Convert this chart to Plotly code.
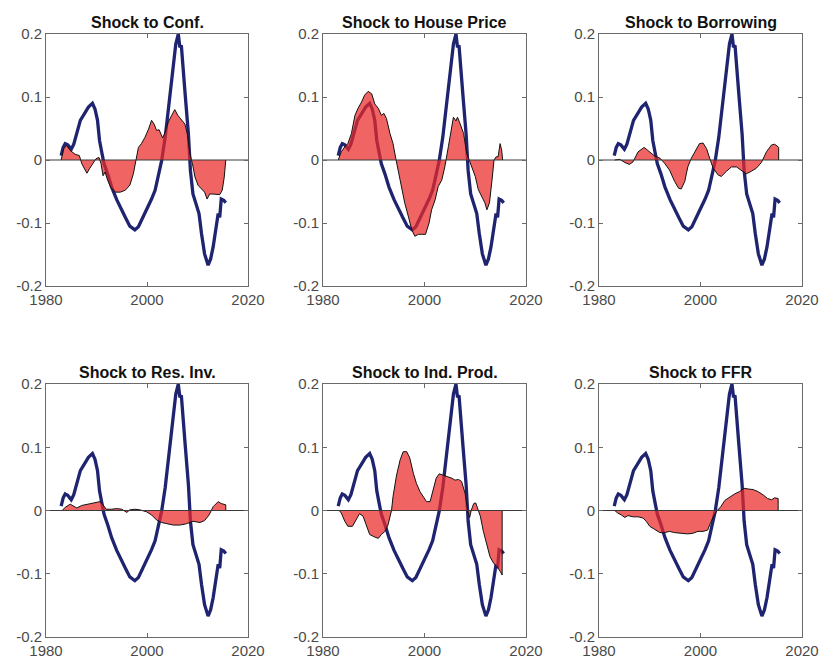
import plotly.graph_objects as go

# ---- common navy line (same in every panel) ----
navy_year = [1983.0, 1983.4, 1983.8, 1984.3, 1984.7, 1985.0, 1985.5, 1986.1, 1986.8, 1987.8,
             1988.4, 1989.2, 1989.7, 1990.2, 1990.6, 1991.1, 1991.5, 1992.2, 1993.0, 1994.0,
             1994.8, 1995.7, 1996.6, 1997.6, 1998.3, 1998.9, 1999.9, 2000.9, 2001.6, 2002.2,
             2002.9, 2003.6, 2004.2, 2004.7, 2005.2, 2005.7, 2006.2, 2006.5, 2006.8, 2007.2,
             2007.6, 2008.2, 2008.6, 2009.1, 2009.8, 2010.3, 2010.8, 2011.4, 2012.1, 2012.6,
             2013.1, 2013.6, 2014.1, 2014.4, 2014.7, 2015.2, 2015.6]
navy_val = [0.007, 0.020, 0.026, 0.024, 0.020, 0.017, 0.025, 0.044, 0.063, 0.076,
            0.084, 0.090, 0.081, 0.063, 0.031, 0.010, -0.006, -0.022, -0.043, -0.063,
            -0.075, -0.091, -0.105, -0.111, -0.106, -0.096, -0.080, -0.062, -0.048, -0.027,
            -0.001, 0.036, 0.078, 0.121, 0.158, 0.184, 0.200, 0.179, 0.182, 0.147,
            0.100, 0.041, -0.017, -0.054, -0.075, -0.085, -0.117, -0.149, -0.167, -0.157,
            -0.138, -0.112, -0.085, -0.091, -0.062, -0.064, -0.068]

titles = ["Shock to Conf.", "Shock to House Price", "Shock to Borrowing",
          "Shock to Res. Inv.", "Shock to Ind. Prod.", "Shock to FFR"]

conf_year = [1983.0, 1983.5, 1984.1, 1984.8, 1985.8, 1986.6, 1987.1, 1987.6, 1988.1, 1988.6,
             1989.3, 1989.9, 1990.5, 1990.9, 1991.3, 1991.7, 1992.2, 1992.8, 1993.7, 1994.7,
             1995.7, 1996.6, 1997.3, 1997.8, 1998.3, 1998.9, 1999.6, 2000.3, 2000.9, 2001.4,
             2001.9, 2002.4, 2003.1, 2003.6, 2004.2, 2004.9, 2005.5, 2006.1, 2006.8, 2007.5,
             2008.0, 2008.5, 2009.0, 2009.5, 2010.1, 2010.8, 2011.4, 2011.9, 2012.4, 2013.1,
             2013.8, 2014.4, 2014.9, 2015.3, 2015.6]
conf_val = [0.0, 0.018, 0.023, 0.015, 0.009, 0.007, -0.006, -0.014, -0.021, -0.014,
            -0.006, 0.002, 0.004, -0.006, -0.025, -0.019, -0.032, -0.043, -0.051, -0.051,
            -0.048, -0.040, -0.022, 0.0, 0.020, 0.026, 0.036, 0.049, 0.063, 0.057,
            0.047, 0.048, 0.035, 0.044, 0.060, 0.071, 0.080, 0.071, 0.063, 0.057,
            0.041, 0.010, -0.006, -0.027, -0.040, -0.046, -0.051, -0.062, -0.054, -0.054,
            -0.055, -0.055, -0.048, -0.027, 0.0]

house_year = [1983.0, 1983.6, 1984.3, 1984.9, 1985.6, 1986.3, 1986.9, 1987.6, 1988.2, 1988.9,
              1989.6, 1990.2, 1990.9, 1991.5, 1992.0, 1992.5, 1993.2, 1993.8, 1994.4, 1994.8,
              1995.5, 1996.1, 1996.8, 1997.5, 1998.1, 1998.8, 1999.4, 2000.2, 2000.9, 2001.4,
              2002.1, 2002.7, 2003.4, 2004.0, 2004.7, 2005.2, 2005.7, 2006.2, 2006.5, 2007.0,
              2007.7, 2008.3, 2008.8, 2009.3, 2010.0, 2010.6, 2011.3, 2011.9, 2012.3, 2012.8,
              2013.3, 2013.7, 2014.1, 2014.5, 2014.9, 2015.2, 2015.4]
house_val = [0.0, 0.013, 0.021, 0.026, 0.042, 0.071, 0.082, 0.092, 0.103, 0.109,
             0.105, 0.089, 0.082, 0.071, 0.074, 0.066, 0.042, 0.026, 0.0, -0.016,
             -0.042, -0.068, -0.089, -0.111, -0.121, -0.118, -0.118, -0.118, -0.100, -0.079,
             -0.063, -0.042, -0.032, -0.011, 0.021, 0.042, 0.068, 0.062, 0.068, 0.058,
             0.042, 0.011, 0.0, -0.011, -0.026, -0.047, -0.058, -0.068, -0.079, -0.068,
             -0.032, 0.0, 0.005, 0.005, 0.026, 0.016, 0.0]

borrow_year = [1983.1, 1984.1, 1985.1, 1986.0, 1986.7, 1987.7, 1988.9, 1990.0, 1991.0, 1992.0,
               1992.9, 1993.9, 1994.9, 1995.7, 1996.2, 1996.9, 1997.5, 1998.2, 1998.9, 1999.8,
               2000.5, 2001.2, 2001.8, 2002.5, 2003.5, 2004.1, 2005.1, 2006.1, 2007.1, 2008.1,
               2009.0, 2010.0, 2011.0, 2012.0, 2013.0, 2014.0, 2014.6, 2015.3, 2015.4]
borrow_val = [0.0, 0.001, -0.004, -0.007, -0.003, 0.013, 0.020, 0.013, 0.006, 0.003,
              -0.005, -0.016, -0.034, -0.045, -0.046, -0.034, -0.011, 0.003, 0.013, 0.026,
              0.027, 0.018, 0.003, -0.013, -0.024, -0.026, -0.018, -0.011, -0.011, -0.017,
              -0.022, -0.018, -0.013, -0.004, 0.013, 0.024, 0.025, 0.021, 0.020]

resinv_year = [1983.2, 1983.8, 1984.8, 1985.5, 1986.1, 1987.1, 1988.4, 1989.7, 1990.7, 1991.3,
               1991.9, 1993.0, 1994.0, 1995.0, 1996.0, 1996.6, 1997.6, 1998.6, 1999.9, 2000.9,
               2001.9, 2002.9, 2003.9, 2005.2, 2006.5, 2007.8, 2009.1, 2010.5, 2011.4, 2012.3,
               2013.1, 2014.1, 2014.7, 2015.6]
resinv_val = [0.0, 0.005, 0.010, 0.006, 0.004, 0.008, 0.010, 0.012, 0.014, 0.009,
              0.002, 0.002, 0.003, 0.002, -0.003, 0.001, 0.002, 0.001, -0.002, -0.007,
              -0.015, -0.019, -0.021, -0.023, -0.023, -0.021, -0.017, -0.019, -0.016, -0.007,
              0.006, 0.014, 0.011, 0.009]

indprod_year = [1983.2, 1983.6, 1984.3, 1984.9, 1985.8, 1986.5, 1987.2, 1987.9, 1988.6, 1989.2,
                1990.2, 1990.9, 1991.5, 1992.2, 1992.8, 1993.5, 1993.8, 1994.5, 1995.2, 1995.8,
                1996.5, 1997.1, 1997.8, 1998.4, 1999.1, 1999.8, 2000.4, 2001.1, 2001.7, 2002.3,
                2002.9, 2003.7, 2004.7, 2005.4, 2006.0, 2006.7, 2007.3, 2008.0, 2008.5, 2008.9,
                2009.2, 2009.7, 2010.1, 2010.5, 2011.0, 2011.6, 2012.3, 2012.9, 2013.6, 2014.3,
                2014.9, 2015.3]
indprod_val = [0.0, -0.004, -0.017, -0.025, -0.025, -0.015, -0.005, -0.009, -0.025, -0.038,
               -0.042, -0.044, -0.038, -0.033, -0.023, 0.0, 0.022, 0.056, 0.080, 0.093,
               0.093, 0.083, 0.059, 0.043, 0.030, 0.022, 0.014, 0.014, 0.033, 0.051,
               0.058, 0.056, 0.054, 0.051, 0.048, 0.049, 0.046, 0.027, 0.0, -0.011,
               0.0, 0.011, 0.012, 0.004, -0.009, -0.033, -0.057, -0.073, -0.083, -0.089,
               -0.096, -0.102]

ffr_year = [1983.1, 1983.7, 1984.4, 1985.1, 1985.7, 1986.7, 1987.7, 1988.7, 1989.3, 1990.0,
            1991.0, 1992.0, 1992.9, 1993.9, 1994.9, 1996.2, 1997.5, 1998.5, 1999.5, 2000.5,
            2001.4, 2002.0, 2002.7, 2003.3, 2004.0, 2004.8, 2005.8, 2006.7, 2007.7, 2008.6,
            2009.4, 2010.4, 2011.3, 2012.3, 2013.2, 2014.0, 2014.6, 2015.3]
ffr_val = [0.0, -0.004, -0.007, -0.011, -0.008, -0.010, -0.010, -0.012, -0.017, -0.025,
           -0.030, -0.035, -0.035, -0.033, -0.035, -0.036, -0.037, -0.036, -0.033, -0.033,
           -0.031, -0.019, -0.007, 0.0, 0.006, 0.016, 0.022, 0.026, 0.030, 0.035,
           0.034, 0.033, 0.030, 0.025, 0.019, 0.017, 0.020, 0.019]

shock_years = [conf_year, house_year, borrow_year, resinv_year, indprod_year, ffr_year]
shock_vals = [conf_val, house_val, borrow_val, resinv_val, indprod_val, ffr_val]

x_ticks = [1980, 2000, 2020]
y_ticks = [-0.2, -0.1, 0, 0.1, 0.2]
y_tick_labels = ["-0.2", "-0.1", "0", "0.1", "0.2"]

W, H = 821, 661
col_px = [(46, 248), (323, 526), (599, 802)]
row_px = [(34, 286), (384, 637)]

NAVY = "#1f2470"
FILL = "rgba(236,40,40,0.72)"
AX = "#6a6a6a"
FONT = "Liberation Sans, Arial, Helvetica, sans-serif"

fig = go.Figure()
annotations = []
layout_axes = {}

for i in range(6):
    r, c = divmod(i, 3)
    n = i + 1
    xa = "x" if n == 1 else f"x{n}"
    ya = "y" if n == 1 else f"y{n}"
    x0, x1 = col_px[c]
    ytop, ybot = row_px[r]
    xdom = [x0 / W, x1 / W]
    ydom = [1 - ybot / H, 1 - ytop / H]

    fig.add_trace(go.Scatter(x=navy_year, y=navy_val, mode="lines",
                             line=dict(color=NAVY, width=3.3), xaxis=xa, yaxis=ya,
                             showlegend=False, hoverinfo="skip"))
    yrs = shock_years[i]
    vals = shock_vals[i]
    px = [yrs[0]] + list(yrs) + [yrs[-1]]
    py = [0] + list(vals) + [0]
    fig.add_trace(go.Scatter(x=px, y=py, mode="lines", fill="toself", fillcolor=FILL,
                             line=dict(color="#111111", width=1), xaxis=xa, yaxis=ya,
                             showlegend=False, hoverinfo="skip"))
    fig.add_trace(go.Scatter(x=[1980, 2020], y=[0, 0], mode="lines",
                             line=dict(color="#3a3a3a", width=1.2), xaxis=xa, yaxis=ya,
                             showlegend=False, hoverinfo="skip"))

    kx = "xaxis" if n == 1 else f"xaxis{n}"
    ky = "yaxis" if n == 1 else f"yaxis{n}"
    common = dict(ticks="inside", ticklen=4, tickcolor=AX, showline=True,
                  linecolor=AX, linewidth=1, mirror="ticks", showgrid=False,
                  zeroline=False, automargin=False,
                  tickfont=dict(family=FONT, size=15, color="#4a4a4a"))
    layout_axes[kx] = dict(domain=xdom, range=[1980, 2020], anchor=ya,
                           tickvals=x_ticks, ticktext=[str(t) for t in x_ticks], **common)
    layout_axes[ky] = dict(domain=ydom, range=[-0.2, 0.2], anchor=xa,
                           tickvals=y_ticks, ticktext=y_tick_labels, **common)
    annotations.append(dict(text=f"<b>{titles[i]}</b>", x=(xdom[0] + xdom[1]) / 2,
                            y=ydom[1], xref="paper", yref="paper", xanchor="center",
                            yanchor="bottom", yshift=1, showarrow=False,
                            font=dict(family=FONT, size=16, color="#111111")))

fig.update_layout(width=W, height=H, margin=dict(l=0, r=0, t=0, b=0),
                  paper_bgcolor="white", plot_bgcolor="white", template="none",
                  hovermode=False, annotations=annotations, **layout_axes)

# remove the browser's default page margin so the 821x661 figure fills the window exactly
fig.write_html("out.html", config={"displayModeBar": False, "staticPlot": True},
               post_script="document.body.style.margin='0';document.body.style.overflow='hidden';")
